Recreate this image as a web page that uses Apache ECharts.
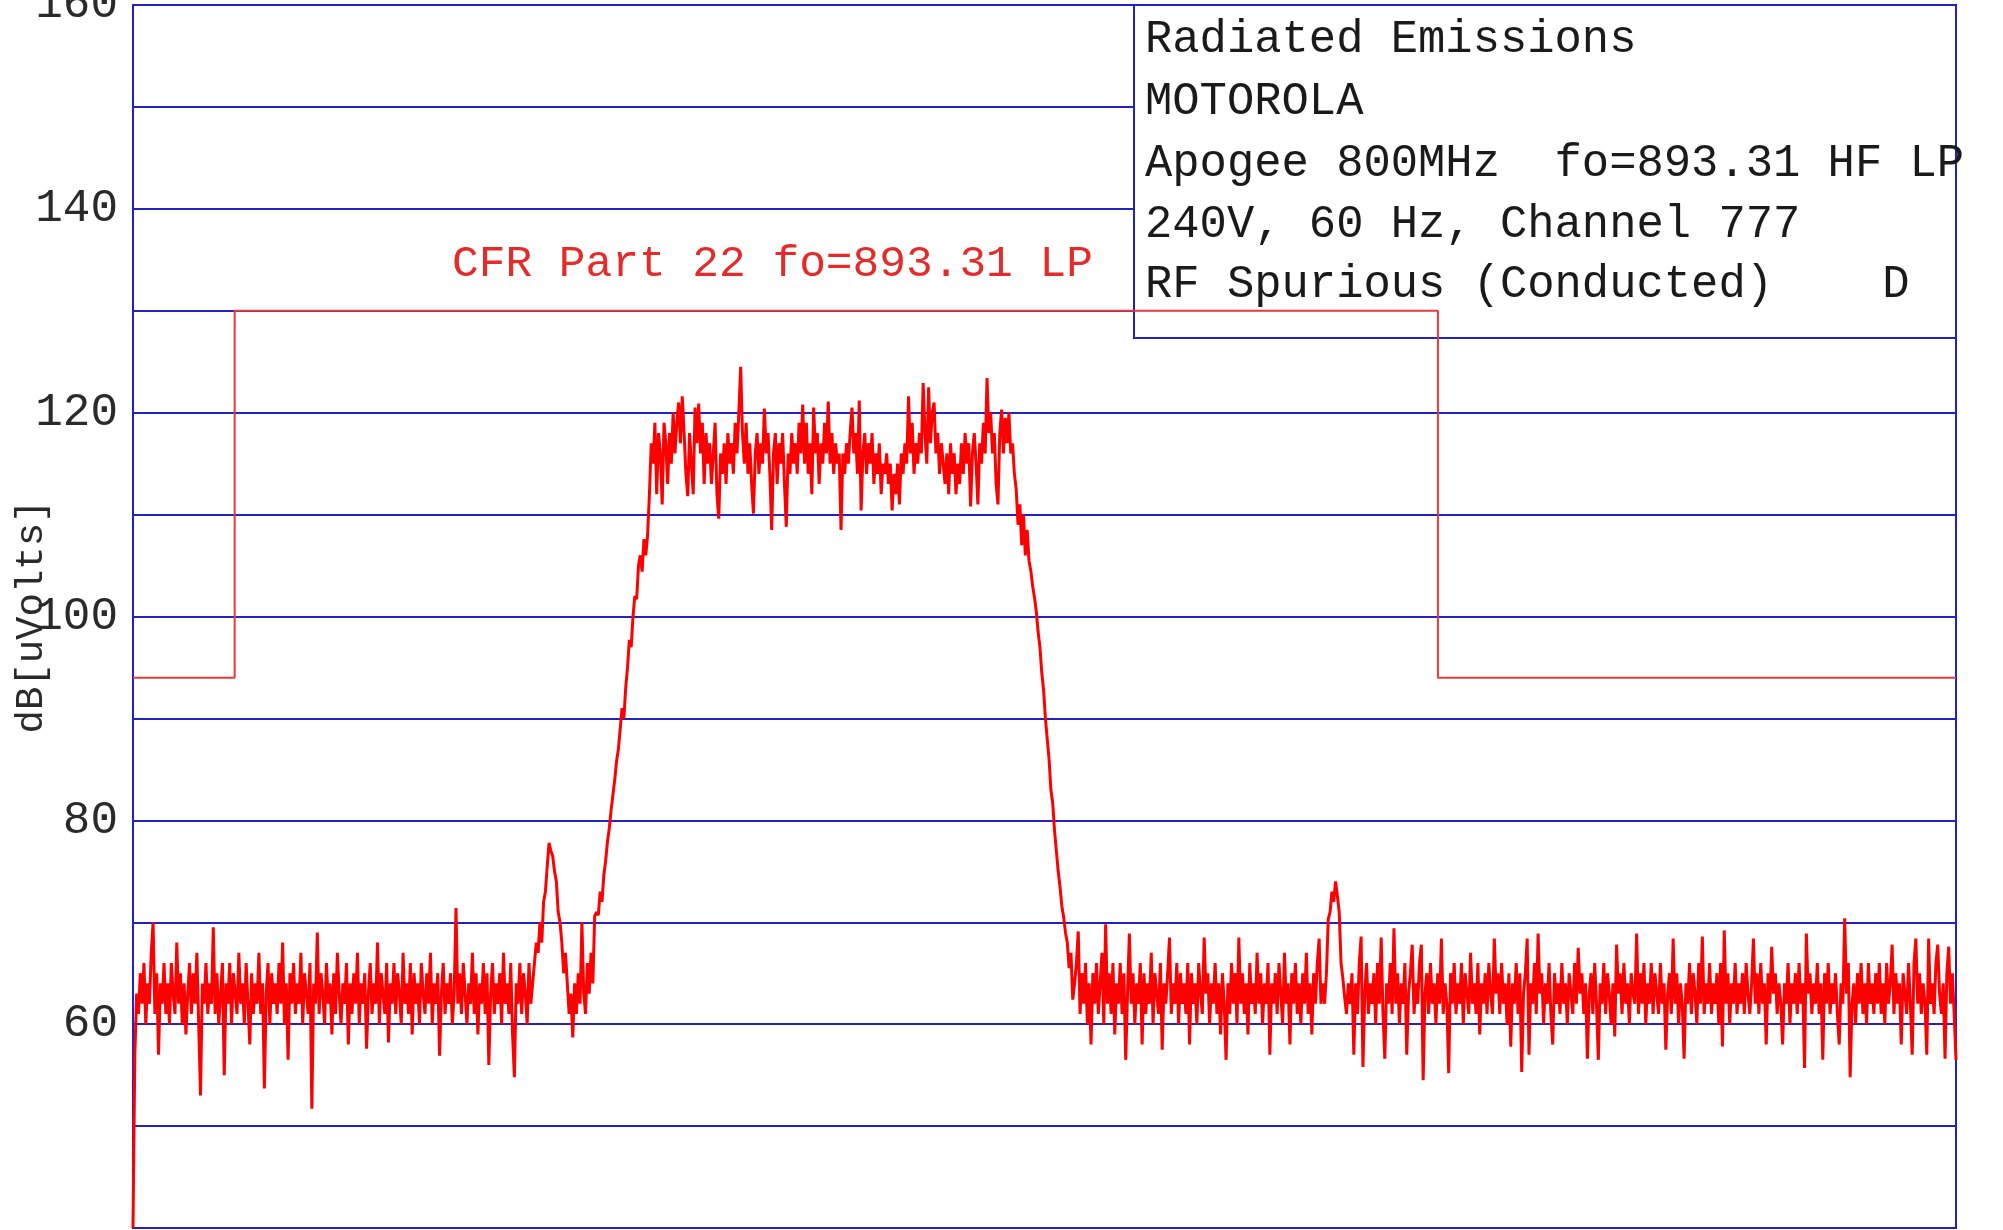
<!DOCTYPE html>
<html>
<head>
<meta charset="utf-8">
<script src="https://cdn.jsdelivr.net/npm/echarts@6/dist/echarts.min.js"></script>
<style>
html,body{margin:0;padding:0;background:#fff;}
#chart{width:2003px;height:1230px;}
</style>
</head>
<body>
<div id="chart"></div>
<script>
// ---- DATA ----
// y axis (dB[uVolts])
const yMin = 40, yMax = 160, yStep = 10;
const yLabelValues = [60, 80, 100, 120, 140, 160];

// measured trace, uniformly spaced sweep samples (index 0..999)
const noiseLeft = [
  40,57,63,61,65,62,66,60,64,62,
  67,70,61,65,57,64,62,66,61,64,
  60,66,63,61,68,62,65,60,64,59,
  63,66,61,65,62,67,60,53,64,62,
  66,61,64,62,69.5,61,65,60,63,66,
  55,64,62,66,60,65,63,61,67,62,
  64,60,66,62,58,65,61,64,62,67,
  61,64,53.7,63,66,60,65,62,64,61,
  66,62,68,60,64,56.5,65,62,66,61,
  64,62,67,60,65,63,61,66,51.7,64,
  62,69,61,65,63,60,66,62,64,59,
  65,61,67,63,60,64,62,66,58,64,
  61,65,62,67,60,64,62,65,57.6,63,
  66,61,64,62,68,60,65,63,61,66,
  58.2,64,62,66,61,65,63,60,67,62,
  64,61,66,59,65,62,64,60,66,63,
  61,65,62,67,60,64,62,65,56.9,63,
  66,61,64,62,65,60,63,71.4,62,65,
  61,66,63,60,64,62,67,61,65,59,
  64,62,66,61,65,56,63,66,61,64,
  62,65,60,67,62,64,61,66,59,54.8,
  64,62,66,61,65,63,60,66,62,64
];
const spurLow = [
  66,68,67,70,68,72,73,75.5,77.8,77,
  76.5,75,74,71,70,68,65,67,64,61,
  63,58.7,64,61,65,62,70,63,61,66,
  63,67,64,70.6
];
const risingEdge = [
  71,70.7,73,72,74.6,76,77.9,79.2,81,82.5,
  84,85.8,87,89,91,90,93,95,97.7,97,
  100,102,101.7,105,106,104.4,107.6,106,108,112
];
const carrierBand = [
  117,115,119,112,118,116,111,119,117,113,
  118,115,120,116,119,121,117,121.6,118,114,
  111.8,118,115,112,120.5,117,120.9,116,119,113,
  118,115,117,113,116,119,112,109.6,116,114,
  117,113,118,115,117,114,119,116,120,124.5,
  118,115,119,114,117,113,110.1,116,118,114,
  117,115,120.4,116,118,114,108.5,116,118,113,
  117,115,118,113,108.8,116,114,118,115,117,
  114,119,116,120.8,115,119,114,117,112,120.5,
  116,118,113,117,115,119,116,121.1,115,118,
  114,117,115,116,108.5,116,114,117,115,118,
  120.5,116,118,114,121.2,110.4,116,118,114,117,
  115,118,113,116,114,117,112,115,114,116,
  113,115,110.4,114,112,115,111,116,114,117,
  115,121.6,116,119,114,117,115,118,116,122.9,
  118,115,122.5,117,120,121,116,118,114,117,
  115,113,116,112,117,114,116,112,115,113,
  117,114,118,115,117,110.8,116,118,115,111,
  117,115,119,116,123.4,118,120,116,118,113,
  111,118,120.3,116,119.5,117,120,116,117
];
const fallingEdge = [
  114,112.5,109,111,107,110,106,108.5,105.5,104.5,
  103,101.9,100.5,98.5,97,94.5,92.8,90,88,86,
  83,81.7,79,77,75,73.5,71.6,70.5,69,68,
  65.5,67,62.4
];
const noiseMid = [
  64,66,69.1,61,65,62,66,60,64,58,
  65,62,66,61,64,67,60,69.8,62,65,
  61,66,59,64,62,66,61,65,56.5,63,
  68.9,62,65,60,64,62,66,58,65,61,
  64,62,67,60,65,63,61,66,57.5,64,
  62,65,68.5,61,64,62,66,60,65,62,
  64,61,66,58,65,62,64,60,66,63,
  61,68.5,63,65,60,64,62,66,61,64,
  59,65,62,56.5,64,61,66,62,65,60,
  68.5,62,65,61,64,59,66,62,64,61,
  67,62,65,60,64,62,66,57,64,62,
  65,61,66,63,60,67,62,64,58,65,
  62,66,61,64,60,65,62,67,61,64,
  59,65,62,66,68.4,62,64
];
const spurHigh = [62,65,70.3,71,73,72,74,72.6,71,66,64.5,62.6];
const noiseRight = [
  61,64,62,65,57,64,61,66,68.6,55.8,
  63,66,61,64,62,65,60,66,62,68.5,
  61,56.6,64,62,66,61,69.4,62,65,60,
  64,62,66,57,63,65,67.8,61,64,62,
  66,67.8,54.5,63,65,61,66,62,64,60,
  65,62,68.4,61,64,62,55.2,65,62,66,
  61,64,62,66,60,65,63,61,67,62,
  64,61,66,59,64,62,65,61,66,63,
  61,68.4,63,65,61,66,62,64,60,65,
  57.8,64,62,66,61,65,55.3,63,65,68.4,
  57,64,62,66,61,68.9,63,65,60,64,
  62,66,61,58,65,62,64,61,66,62,
  64,60,65,63,61,66,62,67.5,63,65,
  61,64,56.6,63,65,61,66,62,56.5,64,
  62,66,61,65,63,60,64,58.8,67.8,63,
  65,61,66,62,64,60,65,63,62,68.9,
  61,65,62,66,60,64,62,66,61,65,
  63,61,66,62,64,57.5,63,65,61,68.4,
  62,65,60,64,62,56.6,64,62,66,61,
  65,63,60,66,62,68.6,61,64,62,66,
  61,64,62,65,60,66,57.8,69.2,62,65,
  60,64,62,66,61,64,62,65,61,66,
  63,61,64,68.4,62,65,61,66,62,64,
  58,65,62,67.6,63,65,61,64,62,58,
  64,62,66,60,64,62,65,61,66,62,
  64,55.7,68.9,63,65,61,64,62,66,61,
  64,56.5,65,62,66,61,64,62,65,61,
  58,64,62,70.4,63,66,54.8,62,64,60,
  65,62,66,61,64,60,66,62,64,61,
  65,62,66,61,64,60,66,62,64,67.8,
  61,65,62,64,58,65,63,61,66,62,
  57,66,68.4,62,65,61,64,62,57,68.4,
  62,64,61,66,67.8,63,61,64,56.6,65,
  67.6,62,65,61,56.5
];

// CFR Part 22 limit line (step positions in sample index, levels in dB)
const limitX = [0, 55.7, 55.7, 715.1, 715.1, 999];
const limitY = [94, 94, 130, 130, 94, 94];

// texts
const limitLabel = 'CFR Part 22 fo=893.31 LP';
const infoLines = [
  'Radiated Emissions',
  'MOTOROLA',
  'Apogee 800MHz  fo=893.31 HF LP',
  '240V, 60 Hz, Channel 777',
  'RF Spurious (Conducted)    D'
];
const yAxisTitle = 'dB[uVolts]';

// ---- CHART ----
const traceValues = [].concat(noiseLeft, spurLow, risingEdge, carrierBand,
                               fallingEdge, noiseMid, spurHigh, noiseRight);
const BLUE = '#2222c4';
const RED = '#ff0000';
const FONT = '"Liberation Mono", "DejaVu Sans Mono", monospace';

const traceData = traceValues.map((v, i) => [i, v]);
const limitData = limitX.map((x, i) => [x, limitY[i]]);

const chart = echarts.init(document.getElementById('chart'), null, {renderer: 'canvas'});

const infoGraphics = infoLines.map((t, k) => ({
  type: 'text',
  x: 1145,
  y: [40, 102, 164, 225, 285][k],
  z: 3,
  style: {text: t, fill: '#1a1a1a', font: '45.5px ' + FONT, align: 'left', verticalAlign: 'middle'}
}));

chart.setOption({
  animation: false,
  backgroundColor: '#ffffff',
  grid: {left: 133, right: 47, top: 5, bottom: 2, containLabel: false, outerBoundsMode: 'none',
         show: true, borderColor: BLUE, borderWidth: 2, backgroundColor: 'transparent'},
  xAxis: {
    type: 'value', min: 0, max: traceValues.length - 1,
    axisLine: {show: true, onZero: false, lineStyle: {color: BLUE, width: 2}},
    axisTick: {show: false}, axisLabel: {show: false}, splitLine: {show: false}
  },
  yAxis: {
    type: 'value', min: yMin, max: yMax, interval: yStep,
    name: yAxisTitle, nameLocation: 'middle', nameRotate: 90, nameGap: 82,
    nameMoveOverlap: false,
    nameTextStyle: {fontFamily: FONT, fontSize: 39, color: '#2a2a2a'},
    axisLine: {show: true, lineStyle: {color: BLUE, width: 2}},
    axisTick: {show: false},
    axisLabel: {
      margin: 15, fontFamily: FONT, fontSize: 46, color: '#2a2a2a',
      formatter: v => yLabelValues.indexOf(v) >= 0 ? String(v) : ''
    },
    splitLine: {show: true, lineStyle: {color: BLUE, width: 2}}
  },
  graphic: [
    {type: 'rect', z: 1, shape: {x: 1134, y: 5, width: 822, height: 333},
     style: {fill: '#ffffff', stroke: BLUE, lineWidth: 2}},
    ...infoGraphics,
    {type: 'text', x: 452, y: 264, z: 3,
     style: {text: limitLabel, fill: '#e52a2a', font: '44.5px ' + FONT, align: 'left', verticalAlign: 'middle'}}
  ],
  series: [
    {type: 'line', data: limitData, showSymbol: false, z: 4,
     lineStyle: {color: '#e83a3a', width: 2}},
    {type: 'line', data: traceData, showSymbol: false, z: 5,
     lineStyle: {color: RED, width: 3}}
  ]
});
</script>
</body>
</html>
